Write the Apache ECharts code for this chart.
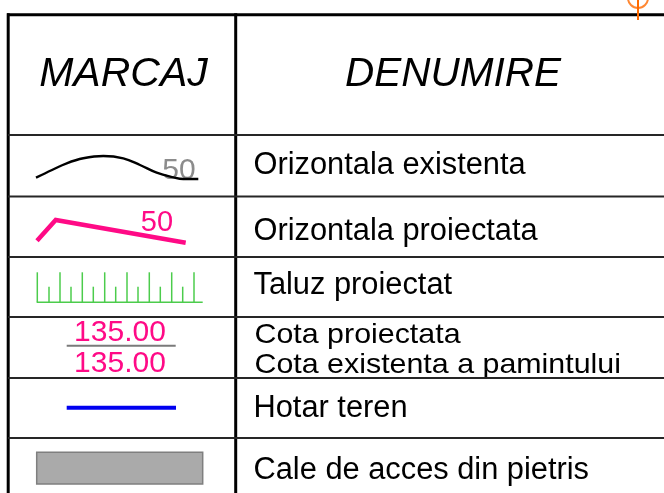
<!DOCTYPE html>
<html>
<head>
<meta charset="utf-8">
<script src="https://cdn.jsdelivr.net/npm/echarts@6/dist/echarts.min.js"></script>
<style>html,body{margin:0;padding:0;background:#fff}#c{width:664px;height:493px}</style>
</head>
<body>
<div id="c"></div>
<script>
// ---- data ----
const headers = ['MARCAJ', 'DENUMIRE'];
const names = ['Orizontala existenta', 'Orizontala proiectata', 'Taluz proiectat',
  'Cota proiectata', 'Cota existenta a pamintului', 'Hotar teren', 'Cale de acces din pietris'];
const rowLines = [135, 196.5, 257, 317, 378, 438];
const contourExistX = [36, 52, 66.7, 83.3, 103.3, 123.3, 140, 156.7, 173.3, 183.3, 198.3];
const contourExistY = [177.7, 170, 163.3, 158.3, 156, 158.3, 165, 172.7, 177.3, 179, 179];
const contourProjX = [37, 55.7, 185.7];
const contourProjY = [240.7, 220, 242.7];
const contourLabels = ['50', '50'];
const talusTallX = [37.3, 60, 82.3, 104.7, 127, 149.3, 171.7, 194];
const talusShortX = [49, 71, 93.3, 115.7, 138, 160.3, 182.7];
const elevationLabels = ['135.00', '135.00'];

const PINK = '#ff0a86', GREEN = '#4ccc4c', BLUE = '#0000f0', ORANGE = '#ff6a00';

const series = [];
function seg(pts, color, width, cap) {
  series.push({type: 'line', data: pts, symbol: 'none', silent: true, clip: false,
    animation: false, lineStyle: {color: color, width: width, cap: cap || 'butt', join: 'miter'}});
}
// table frame
seg([[7, 14.7], [664, 14.7]], '#000', 3);
seg([[8.2, 13.2], [8.2, 493]], '#000', 3);
seg([[235.7, 13.2], [235.7, 493]], '#000', 3);
rowLines.forEach(y => seg([[8, y], [664, y]], '#262626', 2));
// orange mark top right
seg([[638, -2], [638, 20]], ORANGE, 2);
series.push({type: 'scatter', data: [[638, -2]], symbol: 'circle', symbolSize: 20, clip: false,
  animation: false, silent: true,
  itemStyle: {color: 'rgba(0,0,0,0)', borderColor: ORANGE, borderWidth: 2}});
// existing contour
series.push({type: 'line', data: contourExistX.map((x, i) => [x, contourExistY[i]]), smooth: 0.4,
  symbol: 'none', animation: false, silent: true, clip: false,
  lineStyle: {color: '#000', width: 2.4}});
// projected contour
seg(contourProjX.map((x, i) => [x, contourProjY[i]]), PINK, 4.5);
// talus
seg([[36.7, 302.3], [202.7, 302.3]], GREEN, 1.5);
talusTallX.forEach(x => seg([[x, 302.3], [x, 272.3]], GREEN, 1.5));
talusShortX.forEach(x => seg([[x, 302.3], [x, 286.7]], GREEN, 1.5));
// elevation divider
seg([[66.7, 345.7], [175.7, 345.7]], '#7a7a7a', 2);
// boundary
seg([[66.7, 407.7], [176, 407.7]], BLUE, 4);
// gravel road
series.push({type: 'custom', animation: false, silent: true, clip: false,
  data: [[36.7, 452.3, 202.7, 484]],
  renderItem: (p, api) => {
    const a = api.coord([api.value(0), api.value(1)]);
    const b = api.coord([api.value(2), api.value(3)]);
    return {type: 'rect', shape: {x: a[0], y: a[1], width: b[0] - a[0], height: b[1] - a[1]},
      style: {fill: '#aaaaaa', stroke: '#7f7f7f', lineWidth: 1.5}};
  }});

const chart = echarts.init(document.getElementById('c'), null, {renderer: 'canvas'});
chart.setOption({
  animation: false,
  grid: {left: 0, right: 0, top: 0, bottom: 0},
  xAxis: {type: 'value', min: 0, max: 664, show: false},
  yAxis: {type: 'value', min: 0, max: 493, inverse: true, show: false},
  series: series
});

const FONT = '"Liberation Sans", Arial, sans-serif';
function txt(s, x, y, size, color, align, opts) {
  const p = chart.convertToPixel({gridIndex: 0}, [x, y]);
  opts = opts || {};
  return {type: 'text', x: p[0], y: p[1], scaleX: opts.sx || 1, silent: true,
    style: {text: s, x: 0, y: 0, fill: color, fontSize: size, fontFamily: FONT,
      fontStyle: opts.italic ? 'italic' : 'normal', align: align, verticalAlign: 'middle'}};
}
const g = [];
g.push(txt(headers[0], 123.5, 75, 41, '#000', 'center', {italic: true}));
g.push(txt(headers[1], 453, 75, 40.5, '#000', 'center', {italic: true}));
g.push(txt(names[0], 253.5, 166, 30.8, '#000', 'left'));
g.push(txt(names[1], 253.5, 232, 30.8, '#000', 'left'));
g.push(txt(names[2], 253.5, 285.5, 30.8, '#000', 'left'));
g.push(txt(names[3], 254.5, 335.5, 28, '#000', 'left', {sx: 1.085}));
g.push(txt(names[4], 254.5, 365.5, 28, '#000', 'left', {sx: 1.085}));
g.push(txt(names[5], 253.5, 408.5, 30.8, '#000', 'left'));
g.push(txt(names[6], 253.5, 470.5, 30.8, '#000', 'left'));
g.push(txt(contourLabels[0], 179, 170.5, 30, '#8c8c8c', 'center'));
g.push(txt(contourLabels[1], 157, 223, 29, PINK, 'center'));
g.push(txt(elevationLabels[0], 120, 332.5, 30, PINK, 'center'));
g.push(txt(elevationLabels[1], 120, 364, 30, PINK, 'center'));
chart.setOption({graphic: g});
</script>
</body>
</html>
